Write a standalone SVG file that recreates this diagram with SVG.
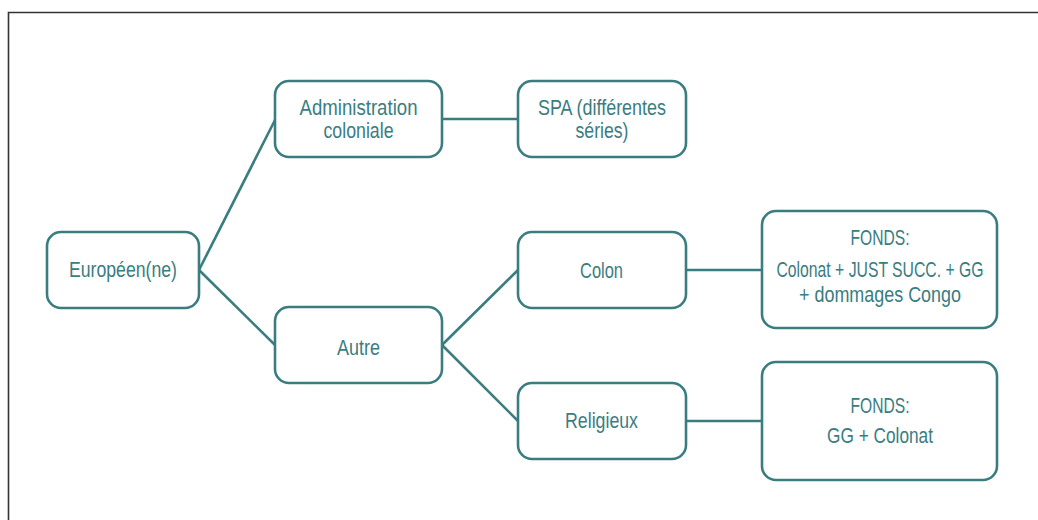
<svg xmlns="http://www.w3.org/2000/svg" width="1038" height="520" viewBox="0 0 1038 520">
<style>
.box{fill:#fff;stroke:#3a7d81;stroke-width:2.6}
.t{font-family:"Liberation Sans",Arial,sans-serif;font-size:22px;fill:#3a7d81;text-anchor:middle}
.c{fill:none;stroke:#3a7d81;stroke-width:2.6}
</style>
<rect width="1038" height="520" fill="#fff"/>
<path d="M8.5,520 V12.5 H1038" fill="none" stroke="#333" stroke-width="1.6"/>
<g id="connectors">
<path class="c" d="M199,270 L275,120"/>
<path class="c" d="M199,270 L275,345"/>
<path class="c" d="M442,119 L518,119"/>
<path class="c" d="M442,345 L518,270"/>
<path class="c" d="M442,345 L518,421"/>
<path class="c" d="M686,270 L762,270"/>
<path class="c" d="M686,421 L762,421"/>
</g>
<g id="europeen">
<rect class="box" x="47" y="232" width="152" height="76" rx="14"/>
<text class="t" x="123" y="277" textLength="108" lengthAdjust="spacingAndGlyphs">Européen(ne)</text>
</g>
<g id="admin">
<rect class="box" x="275" y="81" width="167" height="76" rx="14"/>
<text class="t" x="358.5" y="115" textLength="118" lengthAdjust="spacingAndGlyphs">Administration</text>
<text class="t" x="358.5" y="138" textLength="70" lengthAdjust="spacingAndGlyphs">coloniale</text>
</g>
<g id="spa">
<rect class="box" x="518" y="81" width="168" height="76" rx="14"/>
<text class="t" x="602" y="115" textLength="128" lengthAdjust="spacingAndGlyphs">SPA (différentes</text>
<text class="t" x="602" y="138" textLength="53" lengthAdjust="spacingAndGlyphs">séries)</text>
</g>
<g id="autre">
<rect class="box" x="275" y="307" width="167" height="76" rx="14"/>
<text class="t" x="358.5" y="355" textLength="43" lengthAdjust="spacingAndGlyphs">Autre</text>
</g>
<g id="colon">
<rect class="box" x="518" y="232" width="168" height="76" rx="14"/>
<text class="t" x="601.5" y="278" textLength="43" lengthAdjust="spacingAndGlyphs">Colon</text>
</g>
<g id="religieux">
<rect class="box" x="518" y="383" width="168" height="76" rx="14"/>
<text class="t" x="601.5" y="428" textLength="73" lengthAdjust="spacingAndGlyphs">Religieux</text>
</g>
<g id="fonds1">
<rect class="box" x="762" y="211" width="235" height="117" rx="14"/>
<text class="t" x="880" y="245" textLength="59" lengthAdjust="spacingAndGlyphs">FONDS:</text>
<text class="t" x="880" y="277" textLength="207" lengthAdjust="spacingAndGlyphs">Colonat + JUST SUCC. + GG</text>
<text class="t" x="880" y="302" textLength="162" lengthAdjust="spacingAndGlyphs">+ dommages Congo</text>
</g>
<g id="fonds2">
<rect class="box" x="762" y="362" width="235" height="118" rx="14"/>
<text class="t" x="880" y="413" textLength="59" lengthAdjust="spacingAndGlyphs">FONDS:</text>
<text class="t" x="880" y="443" textLength="106" lengthAdjust="spacingAndGlyphs">GG + Colonat</text>
</g>
</svg>
